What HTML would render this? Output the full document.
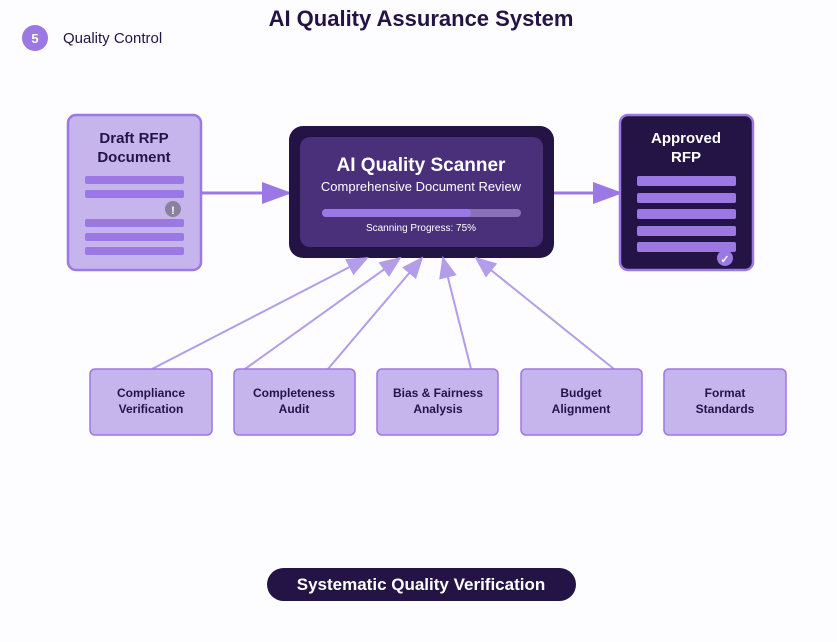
<!DOCTYPE html>
<html><head><meta charset="utf-8"><style>
body{margin:0;background:#fdfcfe;font-family:"Liberation Sans",sans-serif;}
</style></head><body>
<svg width="837" height="637" viewBox="0 0 837 637" xmlns="http://www.w3.org/2000/svg" font-family="Liberation Sans, sans-serif">
<defs>
<marker id="m" markerWidth="30" markerHeight="22" refX="29" refY="11" orient="auto" markerUnits="userSpaceOnUse" viewBox="0 0 30 22"><path d="M0,0 L30,11 L0,22 z" fill="#9b78e3"/></marker>
<marker id="b" markerWidth="22" markerHeight="18" refX="20" refY="9" orient="auto" markerUnits="userSpaceOnUse" viewBox="0 0 22 18"><path d="M0,0 L22,9 L0,18 z" fill="#b39ce8"/></marker>
</defs>
<rect width="837" height="637" fill="#fdfcfe"/>
<text x="421" y="26" text-anchor="middle" font-size="22" font-weight="bold" fill="#231445">AI Quality Assurance System</text>
<circle cx="35" cy="38" r="13" fill="#9b78e3"/>
<text x="35" y="43" text-anchor="middle" font-size="13" font-weight="bold" fill="#fff">5</text>
<text x="63" y="43" font-size="15" fill="#231445">Quality Control</text>

<rect x="68" y="115" width="133" height="155" rx="8" fill="#c6b5ec" stroke="#9b78e3" stroke-width="2.5"/>
<text x="134" y="143" text-anchor="middle" font-size="15" font-weight="bold" fill="#231445">Draft RFP</text>
<text x="134" y="162" text-anchor="middle" font-size="15" font-weight="bold" fill="#231445">Document</text>
<g fill="#9b78e3"><rect x="85" y="176" width="99" height="8" rx="2"/><rect x="85" y="190" width="99" height="8" rx="2"/><rect x="85" y="219" width="99" height="8" rx="2"/><rect x="85" y="233" width="99" height="8" rx="2"/><rect x="85" y="247" width="99" height="8" rx="2"/></g>
<circle cx="173" cy="209" r="8" fill="#8a80a0"/><text x="173" y="214" text-anchor="middle" font-size="11" font-weight="bold" fill="#fff">!</text>

<line x1="201" y1="193" x2="291" y2="193" stroke="#9b78e3" stroke-width="3" marker-end="url(#m)"/>
<line x1="554" y1="193" x2="622" y2="193" stroke="#9b78e3" stroke-width="3" marker-end="url(#m)"/>

<rect x="289" y="126" width="265" height="132" rx="14" fill="#231445"/>
<rect x="300" y="137" width="243" height="110" rx="10" fill="#4a2f7a"/>
<text x="421" y="171" text-anchor="middle" font-size="19" font-weight="bold" fill="#fff">AI Quality Scanner</text>
<text x="421" y="191" text-anchor="middle" font-size="13" fill="#fff">Comprehensive Document Review</text>
<rect x="322" y="209" width="199" height="8" rx="4" fill="#8a70b8"/>
<rect x="322" y="209" width="149" height="8" rx="4" fill="#9b78e3"/>
<text x="421" y="231" text-anchor="middle" font-size="10" fill="#fff">Scanning Progress: 75%</text>

<rect x="620" y="115" width="133" height="155" rx="8" fill="#231445" stroke="#9b78e3" stroke-width="2.5"/>
<text x="686" y="143" text-anchor="middle" font-size="15" font-weight="bold" fill="#fff">Approved</text>
<text x="686" y="162" text-anchor="middle" font-size="15" font-weight="bold" fill="#fff">RFP</text>
<g fill="#9b78e3"><rect x="637" y="176" width="99" height="10" rx="2"/><rect x="637" y="193" width="99" height="10" rx="2"/><rect x="637" y="209" width="99" height="10" rx="2"/><rect x="637" y="226" width="99" height="10" rx="2"/><rect x="637" y="242" width="99" height="10" rx="2"/></g>
<circle cx="725" cy="258" r="8" fill="#9b78e3"/><text x="725" y="263" text-anchor="middle" font-size="11" font-weight="bold" fill="#fff">✓</text>

<g stroke="#b39ce8" stroke-width="2" fill="none">
<line x1="152" y1="369" x2="367" y2="258" marker-end="url(#b)"/>
<line x1="245" y1="369" x2="400" y2="258" marker-end="url(#b)"/>
<line x1="328" y1="369" x2="422" y2="258" marker-end="url(#b)"/>
<line x1="471" y1="369" x2="443" y2="258" marker-end="url(#b)"/>
<line x1="614" y1="369" x2="476" y2="258" marker-end="url(#b)"/>
</g>

<g fill="#c6b5ec" stroke="#9b78e3" stroke-width="1.5">
<rect x="90" y="369" width="122" height="66" rx="5"/>
<rect x="234" y="369" width="121" height="66" rx="5"/>
<rect x="377" y="369" width="121" height="66" rx="5"/>
<rect x="521" y="369" width="121" height="66" rx="5"/>
<rect x="664" y="369" width="122" height="66" rx="5"/>
</g>
<g font-size="12" font-weight="bold" fill="#231445" text-anchor="middle">
<text x="151" y="397">Compliance</text><text x="151" y="413">Verification</text>
<text x="294" y="397">Completeness</text><text x="294" y="413">Audit</text>
<text x="438" y="397">Bias &amp; Fairness</text><text x="438" y="413">Analysis</text>
<text x="581" y="397">Budget</text><text x="581" y="413">Alignment</text>
<text x="725" y="397">Format</text><text x="725" y="413">Standards</text>
</g>

<rect x="267" y="568" width="309" height="33" rx="16.5" fill="#231445"/>
<text x="421" y="590" text-anchor="middle" font-size="17" font-weight="bold" fill="#fff">Systematic Quality Verification</text>
</svg>
</body></html>
